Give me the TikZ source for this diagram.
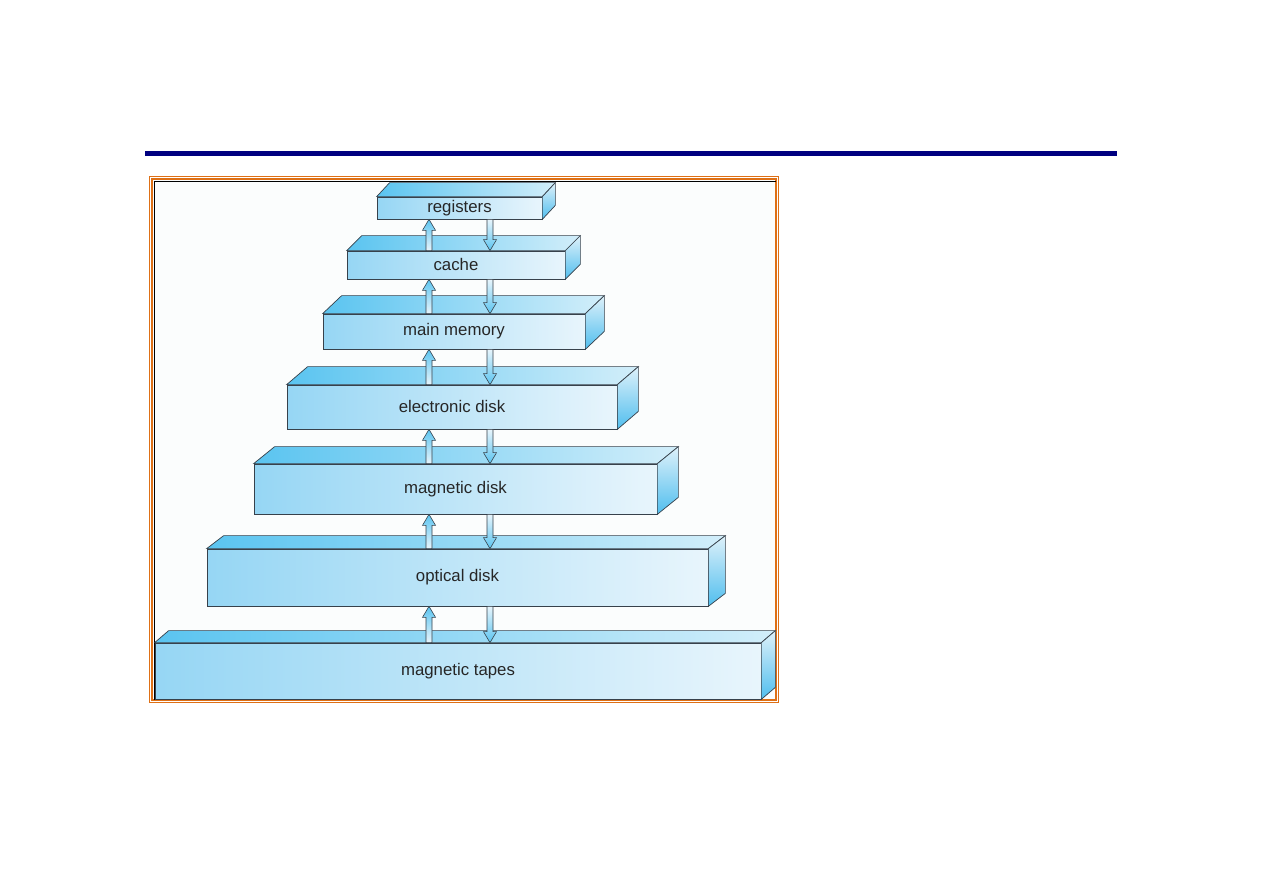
\documentclass[tikz,border=0pt]{standalone}
\usepackage{fontspec}
\setmainfont{Liberation Sans}
\usetikzlibrary{arrows.meta,calc}

\definecolor{barblue}{RGB}{0,0,128}
\definecolor{frameorange}{RGB}{222,112,22}
\definecolor{paper}{RGB}{251,253,253}
\definecolor{edgegray}{RGB}{55,65,75}
\definecolor{frontleft}{RGB}{150,214,244}
\definecolor{frontright}{RGB}{232,245,252}
\definecolor{topleft}{RGB}{90,196,240}
\definecolor{topright}{RGB}{210,238,250}
\definecolor{sidetop}{RGB}{222,241,250}
\definecolor{sidebottom}{RGB}{80,190,238}

\begin{document}
\begin{tikzpicture}[
      x=1pt, y=1pt,
      layer/.style={
          rectangle, draw=edgegray, line width=0.7pt,
          left color=frontleft, right color=frontright,
          inner sep=0pt, text=black!85,
          font=\fontsize{16.8}{19}\selectfont
        },
      topface/.style={draw=edgegray, line width=0.7pt, left color=topleft, right color=topright},
      sideface/.style={draw=edgegray, line width=0.7pt, top color=sidetop, bottom color=sidebottom},
      uparrow/.style={draw=edgegray, line width=0.6pt, top color=topleft, bottom color=frontright},
      downarrow/.style={draw=edgegray, line width=0.6pt, top color=frontright, bottom color=topleft},
    ]
    \useasboundingbox (0,0) rectangle (1263,893);

    % title bar and frame
    \fill[barblue] (145,737) rectangle (1117,742);
    \fill[paper] (152,193) rectangle (776,714);
    \draw[frameorange, line width=1pt] (149.5,190.5) rectangle (778.5,716.5);
    \draw[frameorange, line width=1.6pt] (152,193) rectangle (776,714);
    \draw[black, line width=1.6pt] (154.5,193) -- (154.5,711.5) -- (776,711.5);

    % storage levels, front faces
    \node[layer, minimum width=165, minimum height=22] (registers) at (459.5,685)   {registers};
    \node[layer, minimum width=218, minimum height=28] (cache)     at (456,628)     {cache};
    \node[layer, minimum width=262, minimum height=35] (memory)    at (454,561.5)   {main memory};
    \node[layer, minimum width=330, minimum height=44] (edisk)     at (452,486)     {electronic disk};
    \node[layer, minimum width=403, minimum height=50] (mdisk)     at (455.5,404)   {magnetic disk};
    \node[layer, minimum width=501, minimum height=57] (odisk)     at (457.5,315.5) {optical disk};
    \node[layer, minimum width=606, minimum height=56] (tapes)     at (458,222)     {magnetic tapes};

    % top and side faces
    \foreach \n/\dx/\dy in {registers/13/14, cache/15/15, memory/19/18, edisk/21/18,
                            mdisk/21/17, odisk/17/13, tapes/14/12} {
        \draw[topface] (\n.north west) -- ++(\dx,\dy) -- ($(\n.north east)+(\dx,\dy)$)
            -- (\n.north east) -- cycle;
        \draw[sideface] (\n.north east) -- ++(\dx,\dy) -- ($(\n.south east)+(\dx,\dy)$)
            -- (\n.south east) -- cycle;
      }

    % transfer arrows
    \coordinate (upx) at (429,0);
    \coordinate (downx) at (490,0);
    \foreach \lo/\hi in {cache/registers, memory/cache, edisk/memory, mdisk/edisk,
                         odisk/mdisk, tapes/odisk} {
        \draw[uparrow] let \p1=(\lo.north -| upx), \p2=(\hi.south -| upx) in
            (\x1-3pt,\y1) -- (\x1-3pt,\y2-11pt) -- (\x1-6.5pt,\y2-11pt) -- (\x1,\y2)
            -- (\x1+6.5pt,\y2-11pt) -- (\x1+3pt,\y2-11pt) -- (\x1+3pt,\y1) -- cycle;
        \draw[downarrow] let \p1=(\hi.south -| downx), \p2=(\lo.north -| downx) in
            (\x1-3pt,\y1) -- (\x1-3pt,\y2+11pt) -- (\x1-6.5pt,\y2+11pt) -- (\x1,\y2)
            -- (\x1+6.5pt,\y2+11pt) -- (\x1+3pt,\y2+11pt) -- (\x1+3pt,\y1) -- cycle;
      }
  \end{tikzpicture}
\end{document}
